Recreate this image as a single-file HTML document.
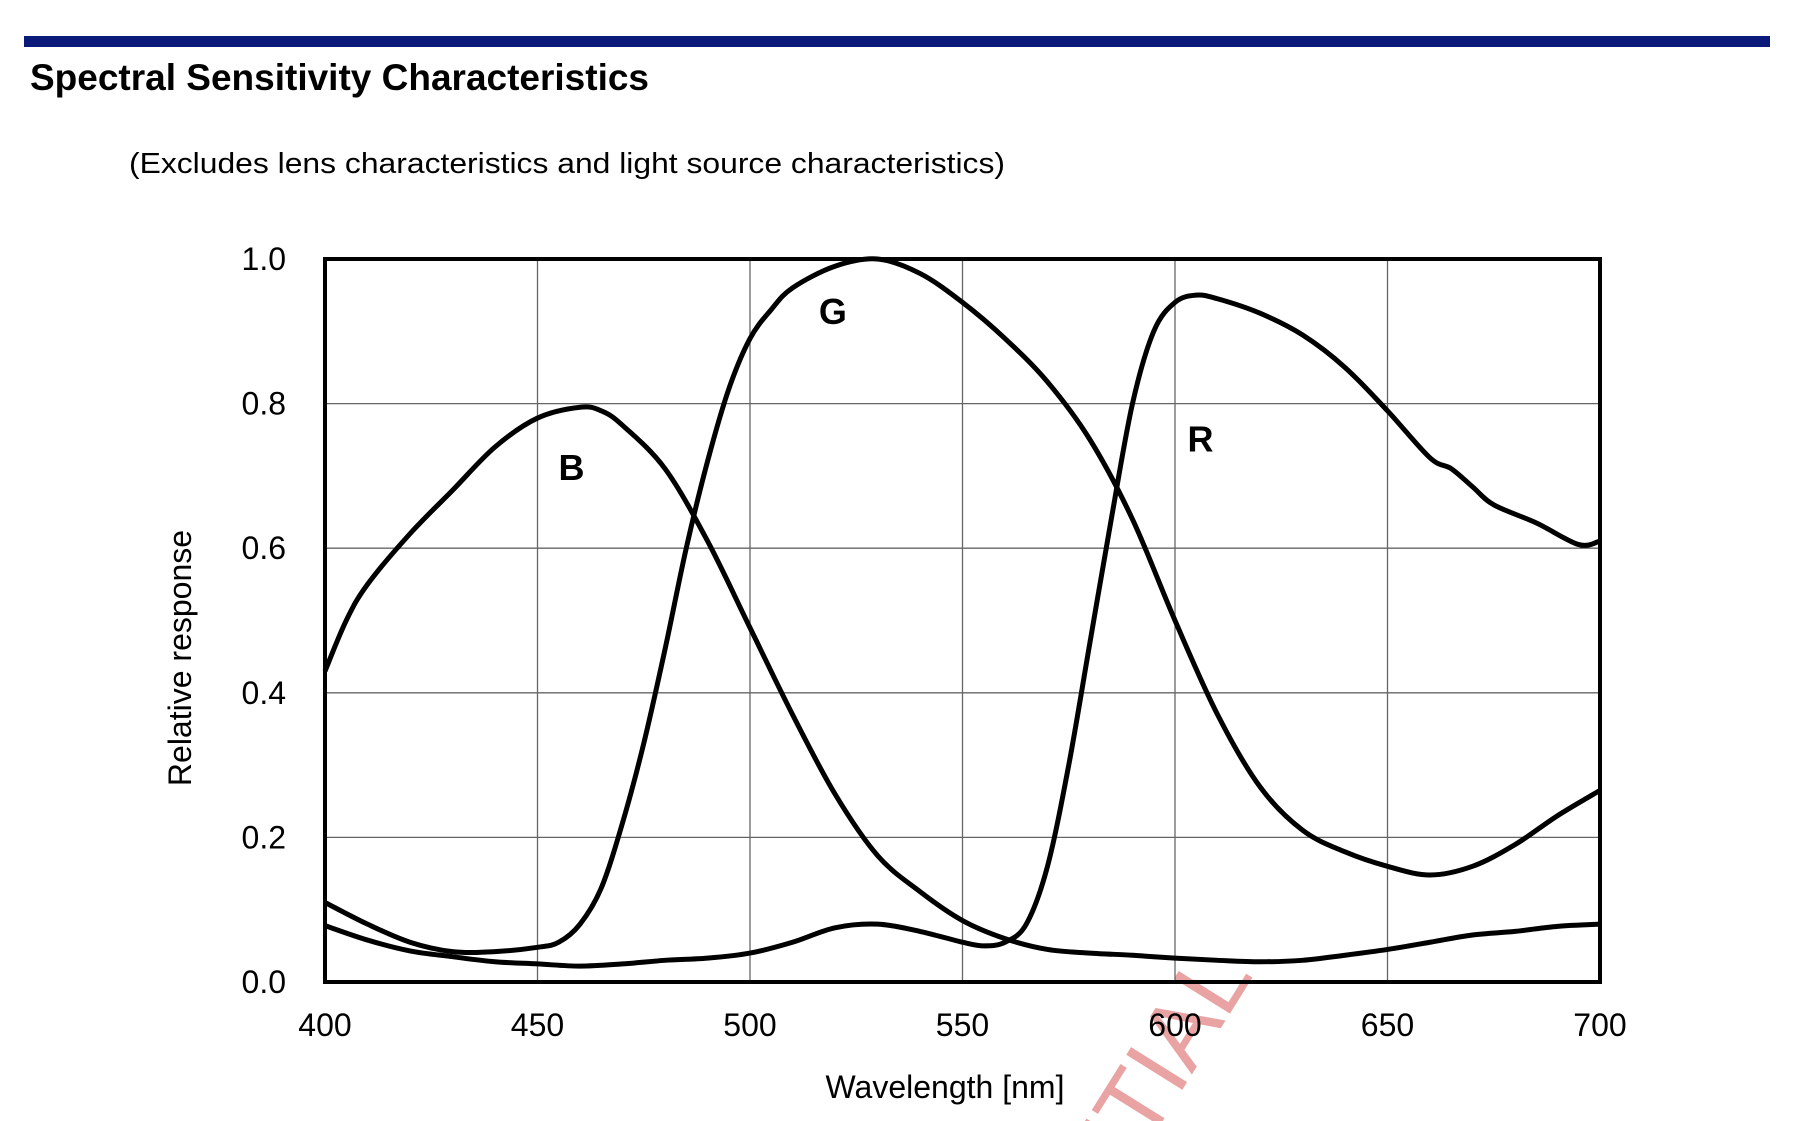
<!DOCTYPE html>
<html><head><meta charset="utf-8"><style>
html,body{margin:0;padding:0;background:#fff;width:1820px;height:1121px;overflow:hidden}
svg{display:block;font-family:"Liberation Sans",Arial,sans-serif;overflow:hidden}
</style></head><body>
<svg id="chart" width="1820" height="1121" viewBox="0 0 1820 1121">
<rect x="24" y="36" width="1746" height="11" fill="#0a1a78"/>
<text x="30" y="90" font-size="37" font-weight="bold" fill="#000">Spectral Sensitivity Characteristics</text>
<text x="129" y="173" font-size="29" fill="#000" textLength="876" lengthAdjust="spacingAndGlyphs">(Excludes lens characteristics and light source characteristics)</text>
<text x="1254" y="975" font-size="96" fill="#e9a3a3" text-anchor="end" transform="rotate(-58 1254 975)">CONFIDENTIAL</text>
<g id="grid"></g>
<g id="curves"></g>
<rect x="325" y="259" width="1275" height="723" fill="none" stroke="#000" stroke-width="4"/>
<g id="ticks"></g>
<text x="191" y="658" font-size="32" fill="#000" text-anchor="middle" transform="rotate(-90 191 658)">Relative response</text>
<text x="945" y="1098" font-size="32" fill="#000" text-anchor="middle">Wavelength [nm]</text>
</svg>
<script>
const xTicks=[400,450,500,550,600,650,700];
const yTicks=[0,0.2,0.4,0.6,0.8,1.0];
const yTickLabels=["0.0","0.2","0.4","0.6","0.8","1.0"];
const bNm=[400,405,410,420,430,440,450,460,465,470,480,490,500,510,520,530,540,550,560,570,580,590,600,610,620,630,640,650,660,670,680,690,700];
const bVal=[0.43,0.5,0.55,0.62,0.68,0.74,0.78,0.795,0.79,0.77,0.71,0.61,0.49,0.37,0.26,0.175,0.125,0.085,0.06,0.045,0.04,0.037,0.033,0.03,0.028,0.03,0.037,0.045,0.055,0.065,0.07,0.077,0.08];
const gNm=[400,410,420,430,440,450,455,460,465,470,475,480,485,490,495,500,505,510,520,530,540,550,560,570,580,590,600,610,620,630,640,650,660,670,680,690,700];
const gVal=[0.11,0.08,0.055,0.042,0.042,0.048,0.055,0.08,0.13,0.22,0.33,0.46,0.6,0.72,0.82,0.89,0.93,0.96,0.99,1.0,0.98,0.94,0.89,0.83,0.75,0.64,0.5,0.37,0.27,0.21,0.18,0.16,0.148,0.16,0.19,0.23,0.265];
const rNm=[400,410,420,430,440,450,460,470,480,490,500,510,520,530,540,550,555,560,565,570,575,580,585,590,595,600,605,610,620,630,640,650,660,665,670,675,685,695,700];
const rVal=[0.078,0.058,0.043,0.035,0.028,0.025,0.022,0.025,0.03,0.033,0.04,0.055,0.075,0.08,0.07,0.055,0.05,0.055,0.08,0.16,0.3,0.47,0.64,0.8,0.9,0.94,0.95,0.945,0.925,0.895,0.85,0.79,0.725,0.71,0.685,0.66,0.635,0.605,0.61];
const seriesLabels=["B","G","R"];
const labelNm=[458,519.5,606];
const labelVal=[0.712,0.928,0.752];

const X0=325,X1=1600,Y0=982,Y1=259;
const xs=v=>X0+(v-400)/300*(X1-X0);
const ys=v=>Y0-v*(Y0-Y1);
const NS="http://www.w3.org/2000/svg";
const grid=document.getElementById('grid'),ticks=document.getElementById('ticks'),curves=document.getElementById('curves');
function mk(tag,parent,attrs){const e=document.createElementNS(NS,tag);for(const k in attrs)e.setAttribute(k,attrs[k]);parent.appendChild(e);return e;}
xTicks.forEach(t=>{
 const l=mk('line',grid,{x1:xs(t),x2:xs(t),y1:Y1,y2:Y0,stroke:'#666','stroke-width':1.3});
 
 
 const tx=mk('text',ticks,{x:xs(t),y:1036,'font-size':32,'text-anchor':'middle',fill:'#000'});
 tx.textContent=t;
 
 
});
yTicks.forEach((t,i)=>{
 const l=mk('line',grid,{x1:X0,x2:X1,y1:ys(t),y2:ys(t),stroke:'#666','stroke-width':1.3});
 
 
 const tx=mk('text',ticks,{x:286,y:ys(t)+11,'font-size':32,'text-anchor':'end',fill:'#000'});
 tx.textContent=yTickLabels[i];
 
 
});
function pathD(nm,val){
 const p=nm.map((n,i)=>[xs(n),ys(val[i])]);
 let d='M'+p[0][0]+','+p[0][1];
 for(let i=0;i<p.length-1;i++){
  const a=p[Math.max(0,i-1)],b=p[i],c=p[i+1],e=p[Math.min(p.length-1,i+2)];
  const c1=[b[0]+(c[0]-a[0])/6,b[1]+(c[1]-a[1])/6],c2=[c[0]-(e[0]-b[0])/6,c[1]-(e[1]-b[1])/6];
  d+=' C'+c1[0]+','+c1[1]+' '+c2[0]+','+c2[1]+' '+c[0]+','+c[1];
 }
 return d;
}
[[bNm,bVal,'curve-b'],[gNm,gVal,'curve-g'],[rNm,rVal,'curve-r']].forEach(s=>{
 const p=mk('path',curves,{d:pathD(s[0],s[1]),fill:'none',stroke:'#000','stroke-width':5,'stroke-linejoin':'round'});
 
 
});
seriesLabels.forEach((s,i)=>{
 const t=mk('text',curves,{x:xs(labelNm[i]),y:ys(labelVal[i])+13,'font-size':36,'font-weight':'bold','text-anchor':'middle',fill:'#000'});
 t.textContent=s;
 
 
});
</script>
</body></html>
